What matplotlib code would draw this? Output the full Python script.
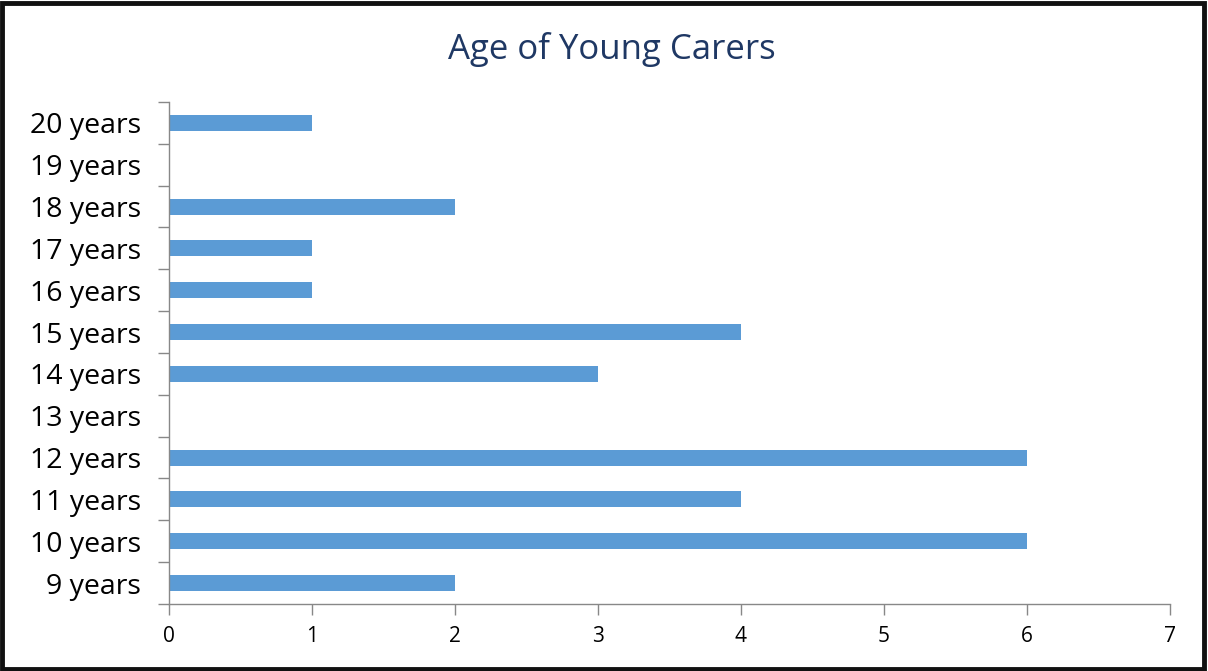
import matplotlib.pyplot as plt
from matplotlib.patches import Rectangle
from matplotlib.ticker import FixedLocator, NullFormatter

# Datos
ages = ["9 years", "10 years", "11 years", "12 years", "13 years", "14 years",
        "15 years", "16 years", "17 years", "18 years", "19 years", "20 years"]
counts = [2, 6, 4, 6, 0, 3, 4, 1, 1, 2, 0, 1]
xticks = [0, 1, 2, 3, 4, 5, 6, 7]

plt.rcParams['font.family'] = ['Open Sans', 'DejaVu Sans']

fig = plt.figure(figsize=(12.08, 6.71), dpi=100)
ax = fig.add_axes([0.1399, 0.0999, 0.8286, 0.7481])

pos = list(range(len(ages)))
ax.barh(pos, counts, height=0.38, color="#5B9BD5")

ax.set_xlim(0, 7)
ax.set_ylim(-0.5, len(ages) - 0.5)
ax.set_xticks(xticks)
ax.set_xticklabels([str(t) for t in xticks], fontsize=15)
ax.set_yticks(pos)
ax.set_yticklabels(ages, fontsize=20.5)
ax.tick_params(axis='y', length=0, pad=20)
ax.yaxis.set_minor_locator(FixedLocator([p - 0.5 for p in pos] + [len(ages) - 0.5]))
ax.yaxis.set_minor_formatter(NullFormatter())
ax.tick_params(axis='y', which='minor', length=8, color="#888888", width=1)
ax.tick_params(axis='x', length=8, color="#888888", width=1, pad=8)

for side in ["top", "right"]:
    ax.spines[side].set_visible(False)
for side in ["left", "bottom"]:
    ax.spines[side].set_color("#888888")
    ax.spines[side].set_linewidth(1)

fig.text(0.5065, 0.926, "Age of Young Carers", ha="center", va="center",
         fontsize=25, color="#1F3864")

# Marco negro alrededor de la figura
fig.patches.append(Rectangle((0.002, 0.003), 0.995, 0.993, transform=fig.transFigure,
                             fill=False, edgecolor="#111111", linewidth=3.5))

plt.savefig("out.png", dpi=100)
